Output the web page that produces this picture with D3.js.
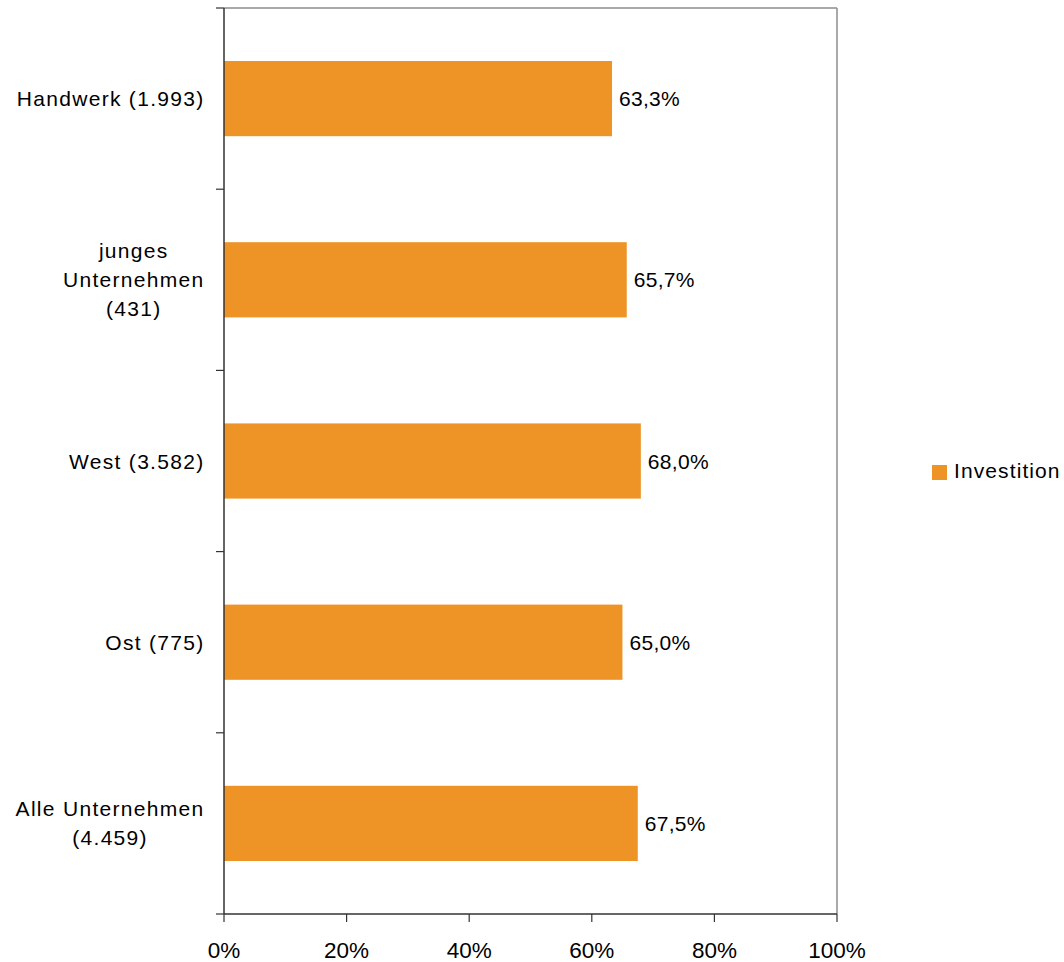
<!DOCTYPE html>
<html><head><meta charset="utf-8">
<script src="https://cdn.jsdelivr.net/npm/d3@7"></script>
<style>
html,body{margin:0;padding:0;background:#fff;}
text{font-family:"Liberation Sans",Arial,sans-serif;fill:#000;}
</style></head>
<body>
<svg id="chart" width="1064" height="962"></svg>
<script>
const categories = [
  ["Handwerk (1.993)"],
  ["junges", "Unternehmen", "(431)"],
  ["West (3.582)"],
  ["Ost (775)"],
  ["Alle Unternehmen", "(4.459)"]
];
const values = [63.3, 65.7, 68.0, 65.0, 67.5];
const valueLabels = ["63,3%", "65,7%", "68,0%", "65,0%", "67,5%"];
const xTicks = [0, 20, 40, 60, 80, 100];
const xTickLabels = ["0%", "20%", "40%", "60%", "80%", "100%"];
const seriesName = "Investition";
const barColor = "#EE9426";

const svg = d3.select("#chart");
const pLeft = 224, pRight = 837, pTop = 8, pBottom = 914;

const x = d3.scaleLinear().domain([0, 100]).range([pLeft, pRight]);
const y = d3.scaleBand().domain(d3.range(categories.length)).range([pTop, pBottom]).paddingInner(0.585).paddingOuter(0.2925);
const yBand = d3.scaleBand().domain(d3.range(categories.length)).range([pTop, pBottom]);

// border top/right
svg.append("line").attr("x1", pLeft).attr("x2", pRight).attr("y1", pTop).attr("y2", pTop)
  .attr("stroke", "#8c8c8c").attr("stroke-width", 1.5);
svg.append("line").attr("x1", pRight).attr("x2", pRight).attr("y1", pTop).attr("y2", pBottom)
  .attr("stroke", "#8c8c8c").attr("stroke-width", 1.5);

// bars
svg.selectAll("rect.bar").data(values).join("rect")
  .attr("class", "bar")
  .attr("x", x(0))
  .attr("y", (d, i) => y(i))
  .attr("width", d => x(d) - x(0))
  .attr("height", y.bandwidth())
  .attr("fill", barColor);

// value labels
svg.selectAll("text.val").data(values).join("text")
  .attr("class", "val")
  .attr("x", d => x(d) + 7)
  .attr("y", (d, i) => y(i) + y.bandwidth() / 2)
  .attr("dy", "0.36em")
  .attr("font-size", "21px")
  .attr("letter-spacing", "0.3px")
  .text((d, i) => valueLabels[i]);

// y axis line and ticks at band boundaries
svg.append("line").attr("x1", pLeft).attr("x2", pLeft).attr("y1", pTop).attr("y2", pBottom)
  .attr("stroke", "#333").attr("stroke-width", 1.5);
const bounds = d3.range(categories.length + 1).map(i => i < categories.length ? yBand(i) : pBottom);
svg.selectAll("line.ytick").data(bounds).join("line")
  .attr("class", "ytick")
  .attr("x1", pLeft - 8).attr("x2", pLeft).attr("y1", d => d).attr("y2", d => d)
  .attr("stroke", "#333").attr("stroke-width", 1.2);

// x axis
svg.append("line").attr("x1", pLeft).attr("x2", pRight).attr("y1", pBottom).attr("y2", pBottom)
  .attr("stroke", "#333").attr("stroke-width", 1.5);
svg.selectAll("line.xtick").data(xTicks).join("line")
  .attr("class", "xtick")
  .attr("x1", d => x(d)).attr("x2", d => x(d)).attr("y1", pBottom).attr("y2", pBottom + 8)
  .attr("stroke", "#333").attr("stroke-width", 1.2);
svg.selectAll("text.xlab").data(xTicks).join("text")
  .attr("class", "xlab")
  .attr("x", d => x(d)).attr("y", 958)
  .attr("text-anchor", "middle")
  .attr("font-size", "22.5px")
  .text((d, i) => xTickLabels[i]);

// category labels (block right-aligned, lines centered)
const lineH = 29;
categories.forEach((lines, i) => {
  const cy = yBand(i) + yBand.bandwidth() / 2;
  const g = svg.append("g");
  const texts = lines.map((ln, j) => g.append("text")
    .attr("font-size", "21px")
    .attr("letter-spacing", "1.3px")
    .attr("text-anchor", "middle")
    .attr("y", cy + (j - (lines.length - 1) / 2) * lineH)
    .attr("dy", "0.36em")
    .text(ln));
  const maxW = d3.max(texts, t => t.node().getComputedTextLength());
  const cx = 204.5 - maxW / 2;
  texts.forEach(t => t.attr("x", cx));
});

// legend
svg.append("rect").attr("x", 932).attr("y", 465).attr("width", 15).attr("height", 15).attr("fill", barColor);
svg.append("text").attr("x", 954).attr("y", 470).attr("dy", "0.36em")
  .attr("font-size", "21px").attr("letter-spacing", "1.1px").text(seriesName);
</script>
</body></html>
